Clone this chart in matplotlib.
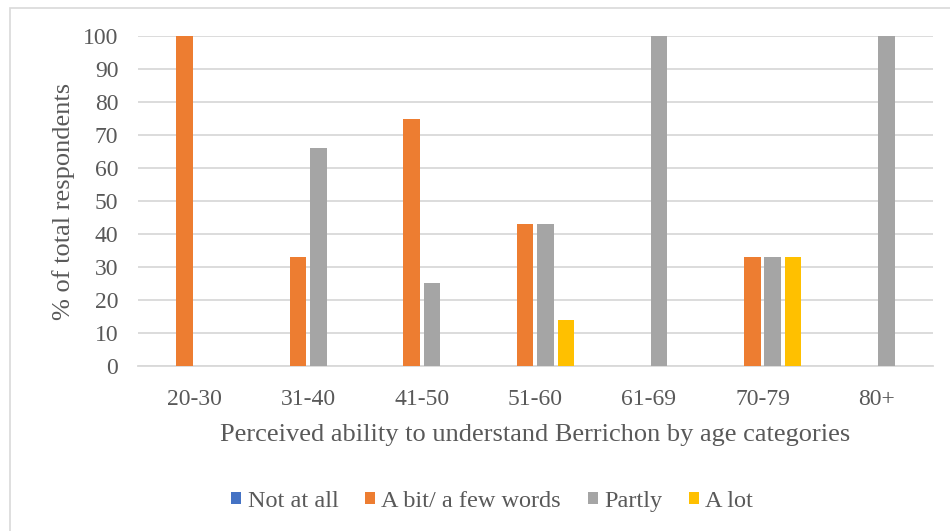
"""Grouped bar chart: perceived ability to understand Berrichon by age."""

import matplotlib.pyplot as plt
import numpy as np
from matplotlib.patches import Rectangle

plt.rcParams["font.family"] = "serif"
plt.rcParams["font.serif"] = ["Liberation Serif", "Times New Roman", "DejaVu Serif"]

age_groups = ["20-30", "31-40", "41-50", "51-60", "61-69", "70-79", "80+"]
series_names = ["Not at all", "A bit/ a few words", "Partly", "A lot"]
not_at_all = [0, 0, 0, 0, 0, 0, 0]
a_bit = [100, 33, 75, 43, 0, 33, 0]
partly = [0, 66, 25, 43, 100, 33, 100]
a_lot = [0, 0, 0, 14, 0, 33, 0]
colors = ["#4472C4", "#ED7D31", "#A5A5A5", "#FFC000"]

TEXT = "#595959"
GRID = "#D9D9D9"

fig = plt.figure(figsize=(9.5, 5.31), dpi=100)
ax = fig.add_axes([0.145, 0.311, 0.837, 0.621])

# light frame around the chart area
fig.patches.append(Rectangle((10 / 950, -0.05), 1.0, 1 - 8 / 531 + 0.05,
                             transform=fig.transFigure, fill=False,
                             edgecolor=GRID, linewidth=1.2))

x = np.arange(len(age_groups))
step = 0.18
width = 0.145
all_series = [not_at_all, a_bit, partly, a_lot]
for i, (vals, name, col) in enumerate(zip(all_series, series_names, colors)):
    ax.bar(x + (i - 1.5) * step, vals, width, color=col, label=name, zorder=3)

ax.set_xlim(-0.5, len(age_groups) - 0.5)
ax.set_ylim(0, 100)
ax.set_yticks(range(0, 101, 10))
ax.set_xticks(x)
ax.set_xticklabels(age_groups)
ax.yaxis.grid(True, color=GRID, linewidth=1.3, zorder=0)
ax.tick_params(axis="both", length=0, colors=TEXT, labelsize=17)
ax.tick_params(axis="x", pad=17)
ax.tick_params(axis="y", pad=14)
for side in ["top", "right", "left"]:
    ax.spines[side].set_visible(False)
ax.spines["bottom"].set_color(GRID)
ax.spines["bottom"].set_linewidth(1.3)

ax.set_ylabel("% of total respondents", fontsize=19, color=TEXT, labelpad=6)
ax.set_xlabel("Perceived ability to understand Berrichon by age categories",
              fontsize=19, color=TEXT, labelpad=10)

fig.legend(loc="center", bbox_to_anchor=(0.518, 0.056), ncol=4, frameon=False,
           fontsize=17.5, labelcolor=TEXT, handlelength=0.42, handleheight=0.42,
           handletextpad=0.25, columnspacing=1.1)

fig.savefig("out.png", dpi=100)
plt.close(fig)
